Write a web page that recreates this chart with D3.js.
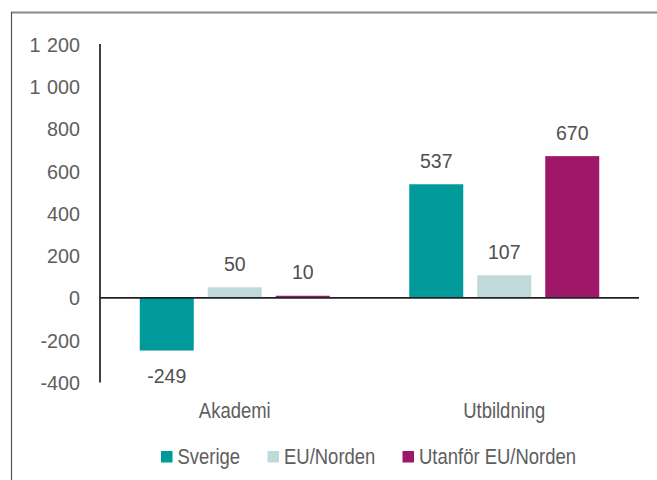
<!DOCTYPE html>
<html><head><meta charset="utf-8">
<script src="https://cdn.jsdelivr.net/npm/d3@7/dist/d3.min.js"></script>
<style>body{margin:0;background:#fff;}svg{display:block;}</style>
</head><body><svg id="c" width="657" height="480"></svg>
<script>
const categories = ["Akademi", "Utbildning"];
const seriesNames = ["Sverige", "EU/Norden", "Utanför EU/Norden"];
const sverige = [-249, 537];
const euNorden = [50, 107];
const utanfor = [10, 670];
const yTicks = [-400, -200, 0, 200, 400, 600, 800, 1000, 1200];
const tickLabels = ["-400", "-200", "0", "200", "400", "600", "800", "1 000", "1 200"];
const colors = ["#009a9b", "#c0dadc", "#9f1768"];

const values = [sverige, euNorden, utanfor];
const svg = d3.select("#c");
const font = "'Liberation Sans', Arial, sans-serif";
const grey = "#5e5e5e";
const narrow = 0.84;

// frame
svg.append("line").attr("x1", 11).attr("x2", 657).attr("y1", 12.5).attr("y2", 12.5)
  .attr("stroke", "#8a8a8a").attr("stroke-width", 1.8);
svg.append("line").attr("x1", 11.5).attr("x2", 11.5).attr("y1", 12).attr("y2", 480)
  .attr("stroke", "#555").attr("stroke-width", 1.2);

const y = d3.scaleLinear().domain([-400, 1200]).range([382.5, 44]);
const x0 = d3.scaleBand().domain(categories).range([100, 639]).padding(0);
const x1 = d3.scaleBand().domain(seriesNames).range([-102, 102])
  .paddingInner(14 / 68).paddingOuter(0.103);

// tick labels
const tl = svg.append("g").selectAll("text").data(yTicks).join("text")
  .attr("transform", d => `translate(80,${y(d)}) scale(0.94,1)`).attr("dy", "0.36em")
  .attr("text-anchor", "end").attr("font-family", font).attr("font-size", 21)
  .attr("fill", grey);
tl.each(function(d, i) {
  const parts = tickLabels[i].split(" ");
  const t = d3.select(this);
  parts.forEach((p, k) => {
    t.append("tspan").attr("dx", k > 0 ? 7 : null).text(p);
  });
});

// bars
const rows = [];
categories.forEach((c, ci) => seriesNames.forEach((s, si) => rows.push({c, s, si, v: values[si][ci]})));
const cx = c => x0(c) + x0.bandwidth() / 2;
svg.append("g").selectAll("rect").data(rows).join("rect")
  .attr("x", d => cx(d.c) + x1(d.s))
  .attr("width", x1.bandwidth())
  .attr("y", d => y(Math.max(0, d.v)))
  .attr("height", d => Math.abs(y(d.v) - y(0)))
  .attr("fill", d => colors[d.si]);

// value labels
svg.append("g").selectAll("text").data(rows).join("text")
  .attr("transform", d => `translate(${cx(d.c) + x1(d.s) + x1.bandwidth() / 2},${d.v >= 0 ? y(d.v) - 16.5 : y(d.v) + 32}) scale(0.93,1)`)
  .attr("text-anchor", "middle").attr("font-family", font).attr("font-size", 21)
  .attr("fill", "#505050").text(d => d.v);

// axes lines
svg.append("line").attr("x1", 100).attr("x2", 100).attr("y1", y(1200)).attr("y2", y(-400))
  .attr("stroke", "#111").attr("stroke-width", 1.6);
svg.append("line").attr("x1", 100).attr("x2", 639).attr("y1", y(0)).attr("y2", y(0))
  .attr("stroke", "#222").attr("stroke-width", 1.6);

// category labels
svg.append("g").selectAll("text").data(categories).join("text")
  .attr("transform", d => `translate(${cx(d)},417.5) scale(${narrow},1)`).attr("text-anchor", "middle")
  .attr("font-family", font).attr("font-size", 22).attr("fill", grey).text(d => d);

// legend
const legX = [161, 267.5, 402.5];
const leg = svg.append("g").selectAll("g").data(seriesNames).join("g")
  .attr("transform", (d, i) => `translate(${legX[i]},451)`);
leg.append("rect").attr("width", 11.5).attr("height", 11.5).attr("fill", (d, i) => colors[i]);
leg.append("text").attr("transform", `translate(16.5,13) scale(${narrow},1)`).attr("font-family", font)
  .attr("font-size", 22).attr("fill", grey).text(d => d);
</script></body></html>
